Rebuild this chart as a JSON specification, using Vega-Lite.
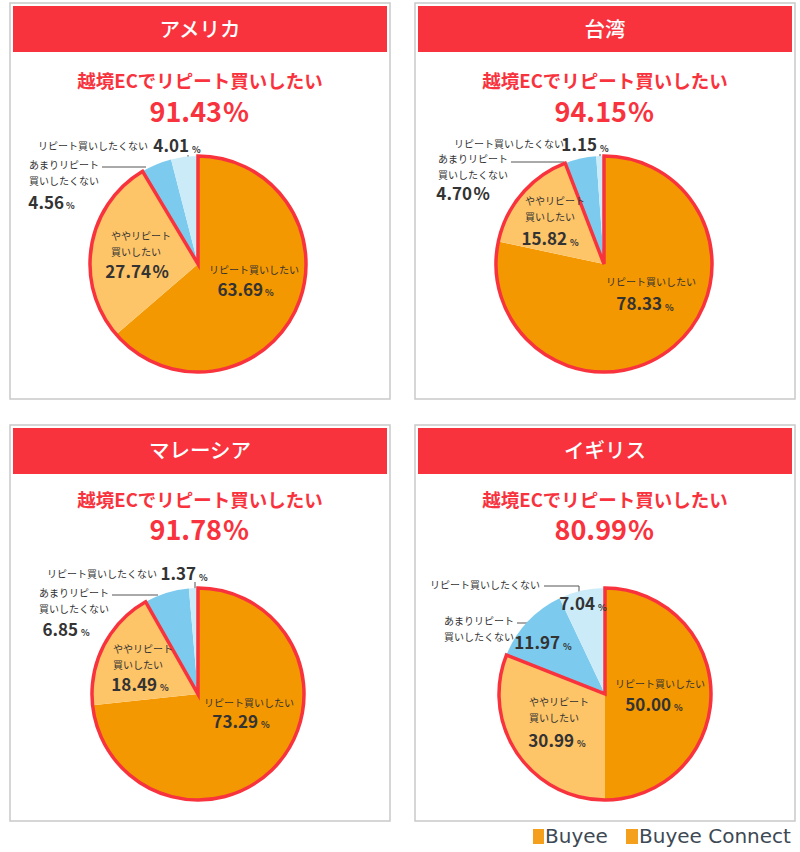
{
  "$schema": "https://vega.github.io/schema/vega-lite/v6.json",
  "background": "white",
  "padding": {"left": 9, "top": 2, "right": 0, "bottom": 0},
  "config": {
    "view": {"stroke": null},
    "axis": {"disable": true},
    "legend": {"disable": true},
    "text": {"font": "Noto Sans CJK JP", "fontSize": 10, "color": "#333333", "baseline": "middle", "lineBreak": "\n", "lineHeight": 16}
  },
  "datasets": {
    "slices": [
      {"country": "アメリカ", "category": "リピート買いしたい", "level": 1, "value": 63.69},
      {"country": "アメリカ", "category": "ややリピート\n買いしたい", "level": 2, "value": 27.74},
      {"country": "アメリカ", "category": "あまりリピート\n買いしたくない", "level": 3, "value": 4.56},
      {"country": "アメリカ", "category": "リピート買いしたくない", "level": 4, "value": 4.01},
      {"country": "台湾", "category": "リピート買いしたい", "level": 1, "value": 78.33},
      {"country": "台湾", "category": "ややリピート\n買いしたい", "level": 2, "value": 15.82},
      {"country": "台湾", "category": "あまりリピート\n買いしたくない", "level": 3, "value": 4.70},
      {"country": "台湾", "category": "リピート買いしたくない", "level": 4, "value": 1.15},
      {"country": "マレーシア", "category": "リピート買いしたい", "level": 1, "value": 73.29},
      {"country": "マレーシア", "category": "ややリピート\n買いしたい", "level": 2, "value": 18.49},
      {"country": "マレーシア", "category": "あまりリピート\n買いしたくない", "level": 3, "value": 6.85},
      {"country": "マレーシア", "category": "リピート買いしたくない", "level": 4, "value": 1.37},
      {"country": "イギリス", "category": "リピート買いしたい", "level": 1, "value": 50.00},
      {"country": "イギリス", "category": "ややリピート\n買いしたい", "level": 2, "value": 30.99},
      {"country": "イギリス", "category": "あまりリピート\n買いしたくない", "level": 3, "value": 11.97},
      {"country": "イギリス", "category": "リピート買いしたくない", "level": 4, "value": 7.04}
    ]
  },
  "spacing": 24,
  "vconcat": [
    {
      "hconcat": [
        {
          "spacing": 0, "bounds": "flush",
          "vconcat": [
            {
              "width": 380, "height": 126,
              "data": {"name": "slices"},
              "transform": [{"filter": "datum.country === 'アメリカ' && datum.level <= 2"}, {"aggregate": [{"op": "sum", "field": "value", "as": "total"}], "groupby": ["country"]}],
              "layer": [
                {"mark": {"type": "rect", "fillOpacity": 0, "stroke": "#c9c9c9", "strokeWidth": 1.5}, "encoding": {"x": {"datum": 0, "type": "quantitative", "scale": {"domain": [0, 380], "nice": false, "zero": false}}, "x2": {"datum": 380}, "y": {"datum": 0, "type": "quantitative", "scale": {"domain": [0, 126], "nice": false, "zero": false, "reverse": true}}, "y2": {"datum": 396}}},
                {"mark": {"type": "rect", "color": "#f8333e"}, "encoding": {"x": {"datum": 3}, "x2": {"datum": 377}, "y": {"datum": 3}, "y2": {"datum": 49}}},
                {"mark": {"type": "text", "color": "white", "fontSize": 20.5, "fontWeight": 500}, "encoding": {"x": {"datum": 190}, "y": {"datum": 27.5}, "text": {"field": "country", "type": "nominal"}}},
                {"mark": {"type": "text", "text": "越境ECでリピート買いしたい", "color": "#f8333e", "fontSize": 18.5, "fontWeight": "bold"}, "encoding": {"x": {"datum": 190}, "y": {"datum": 79}}},
                {"mark": {"type": "text", "align": "right", "color": "#f8333e", "fontSize": 27, "fontWeight": "bold"}, "encoding": {"x": {"datum": 212}, "y": {"datum": 110.5}, "text": {"field": "total", "type": "quantitative", "format": ".2f"}}},
                {"mark": {"type": "text", "text": "%", "align": "left", "color": "#f8333e", "fontSize": 27, "fontWeight": "bold"}, "encoding": {"x": {"datum": 213}, "y": {"datum": 110.5}}},
                {"mark": {"type": "rule", "color": "#555555", "strokeWidth": 1}, "encoding": {"x": {"datum": 92}, "x2": {"datum": 136}, "y": {"datum": 164}}},
                {"mark": {"type": "rule", "color": "#555555", "strokeWidth": 1}, "encoding": {"x": {"datum": 178}, "y": {"datum": 152}, "y2": {"datum": 162}}}
              ]
            },
            {
              "width": 376, "height": 270,
              "data": {"name": "slices"},
              "transform": [{"filter": "datum.country === 'アメリカ'"}],
              "layer": [
                {"mark": {"type": "arc", "outerRadius": 108}, "encoding": {"theta": {"field": "value", "type": "quantitative", "stack": true}, "order": {"field": "level", "type": "quantitative"}, "color": {"field": "category", "type": "nominal", "scale": {"domain": ["リピート買いしたい", "ややリピート\n買いしたい", "あまりリピート\n買いしたくない", "リピート買いしたくない"], "range": ["#f39800", "#fdc468", "#7ccbee", "#cbebf8"]}, "legend": null}}},
                {"transform": [{"filter": "datum.level <= 2"}, {"aggregate": [{"op": "sum", "field": "value", "as": "total"}], "groupby": ["country"]}], "mark": {"type": "arc", "outerRadius": 108, "fillOpacity": 0, "stroke": "#f8333e", "strokeWidth": 3.5, "strokeJoin": "miter"}, "encoding": {"theta": {"field": "total", "type": "quantitative", "stack": true}, "detail": {"field": "country", "type": "nominal"}}},
                {
                  "encoding": {"theta": {"field": "value", "type": "quantitative", "stack": true}, "order": {"field": "level", "type": "quantitative"}, "detail": {"field": "category", "type": "nominal"}},
                  "layer": [
                    {"mark": {"type": "text", "radius": {"expr": "[60,60,100,117][datum.level-1]"}, "dx": {"expr": "[1.5,-27.8,-130.5,-35.3][datum.level-1]"}, "dy": {"expr": "[-18.5,-16.9,-5.7,-1][datum.level-1]"}, "align": {"expr": "['center','left','left','right'][datum.level-1]"}}, "encoding": {"text": {"field": "category", "type": "nominal"}}},
                    {"mark": {"type": "text", "radius": {"expr": "[60,60,100,117][datum.level-1]"}, "dx": {"expr": "[10.5,12.2,-95.5,5.7][datum.level-1]"}, "dy": {"expr": "[1.5,19.1,31.8,-1][datum.level-1]"}, "align": "right", "fontSize": 17, "fontWeight": "bold"}, "encoding": {"text": {"field": "value", "type": "quantitative", "format": ".2f"}}},
                    {"mark": {"type": "text", "text": "%", "radius": {"expr": "[60,60,100,117][datum.level-1]"}, "dx": {"expr": "[12.5,13.7,-93.5,8.7][datum.level-1]"}, "dy": {"expr": "[4,19.1,34.5,2][datum.level-1]"}, "fontSize": {"expr": "[9,17,9,9][datum.level-1]"}, "align": "left", "fontWeight": "bold"}}
                  ]
                }
              ]
            }
          ]
        },
        {
          "spacing": 0, "bounds": "flush",
          "vconcat": [
            {
              "width": 380, "height": 126,
              "data": {"name": "slices"},
              "transform": [{"filter": "datum.country === '台湾' && datum.level <= 2"}, {"aggregate": [{"op": "sum", "field": "value", "as": "total"}], "groupby": ["country"]}],
              "layer": [
                {"mark": {"type": "rect", "fillOpacity": 0, "stroke": "#c9c9c9", "strokeWidth": 1.5}, "encoding": {"x": {"datum": 0, "type": "quantitative", "scale": {"domain": [0, 380], "nice": false, "zero": false}}, "x2": {"datum": 380}, "y": {"datum": 0, "type": "quantitative", "scale": {"domain": [0, 126], "nice": false, "zero": false, "reverse": true}}, "y2": {"datum": 396}}},
                {"mark": {"type": "rect", "color": "#f8333e"}, "encoding": {"x": {"datum": 3}, "x2": {"datum": 377}, "y": {"datum": 3}, "y2": {"datum": 49}}},
                {"mark": {"type": "text", "color": "white", "fontSize": 20.5, "fontWeight": 500}, "encoding": {"x": {"datum": 190}, "y": {"datum": 27.5}, "text": {"field": "country", "type": "nominal"}}},
                {"mark": {"type": "text", "text": "越境ECでリピート買いしたい", "color": "#f8333e", "fontSize": 18.5, "fontWeight": "bold"}, "encoding": {"x": {"datum": 190}, "y": {"datum": 79}}},
                {"mark": {"type": "text", "align": "right", "color": "#f8333e", "fontSize": 27, "fontWeight": "bold"}, "encoding": {"x": {"datum": 212}, "y": {"datum": 110.5}, "text": {"field": "total", "type": "quantitative", "format": ".2f"}}},
                {"mark": {"type": "text", "text": "%", "align": "left", "color": "#f8333e", "fontSize": 27, "fontWeight": "bold"}, "encoding": {"x": {"datum": 213}, "y": {"datum": 110.5}}},
                {"mark": {"type": "rule", "color": "#555555", "strokeWidth": 1}, "encoding": {"x": {"datum": 96}, "x2": {"datum": 149}, "y": {"datum": 159}}},
                {"mark": {"type": "rule", "color": "#555555", "strokeWidth": 1}, "encoding": {"x": {"datum": 185}, "y": {"datum": 151}, "y2": {"datum": 159}}}
              ]
            },
            {
              "width": 378, "height": 270,
              "data": {"name": "slices"},
              "transform": [{"filter": "datum.country === '台湾'"}],
              "layer": [
                {"mark": {"type": "arc", "outerRadius": 108}, "encoding": {"theta": {"field": "value", "type": "quantitative", "stack": true}, "order": {"field": "level", "type": "quantitative"}, "color": {"field": "category", "type": "nominal", "scale": {"domain": ["リピート買いしたい", "ややリピート\n買いしたい", "あまりリピート\n買いしたくない", "リピート買いしたくない"], "range": ["#f39800", "#fdc468", "#7ccbee", "#cbebf8"]}, "legend": null}}},
                {"transform": [{"filter": "datum.level <= 2"}, {"aggregate": [{"op": "sum", "field": "value", "as": "total"}], "groupby": ["country"]}], "mark": {"type": "arc", "outerRadius": 108, "fillOpacity": 0, "stroke": "#f8333e", "strokeWidth": 3.5, "strokeJoin": "miter"}, "encoding": {"theta": {"field": "total", "type": "quantitative", "stack": true}, "detail": {"field": "country", "type": "nominal"}}},
                {
                  "encoding": {"theta": {"field": "value", "type": "quantitative", "stack": true}, "order": {"field": "level", "type": "quantitative"}, "detail": {"field": "category", "type": "nominal"}},
                  "layer": [
                    {"mark": {"type": "text", "radius": {"expr": "[45,60,100,117][datum.level-1]"}, "dx": {"expr": "[18.7,-33.3,-144.2,-35.8][datum.level-1]"}, "dy": {"expr": "[-15.5,-23.1,-6.2,-2.2][datum.level-1]"}, "align": {"expr": "['center','left','left','right'][datum.level-1]"}}, "encoding": {"text": {"field": "category", "type": "nominal"}}},
                    {"mark": {"type": "text", "radius": {"expr": "[45,60,100,117][datum.level-1]"}, "dx": {"expr": "[29.7,8.7,-110.2,-2.8][datum.level-1]"}, "dy": {"expr": "[6.5,15.4,28.6,-1][datum.level-1]"}, "align": "right", "fontSize": 17, "fontWeight": "bold"}, "encoding": {"text": {"field": "value", "type": "quantitative", "format": ".2f"}}},
                    {"mark": {"type": "text", "text": "%", "radius": {"expr": "[45,60,100,117][datum.level-1]"}, "dx": {"expr": "[32.7,11.7,-108.7,0.2][datum.level-1]"}, "dy": {"expr": "[9,18,28.6,2][datum.level-1]"}, "fontSize": {"expr": "[9,9,17,9][datum.level-1]"}, "align": "left", "fontWeight": "bold"}}
                  ]
                }
              ]
            }
          ]
        }
      ],
      "spacing": 23
    },
    {
      "hconcat": [
        {
          "spacing": 0, "bounds": "flush",
          "vconcat": [
            {
              "width": 380, "height": 142,
              "data": {"name": "slices"},
              "transform": [{"filter": "datum.country === 'マレーシア' && datum.level <= 2"}, {"aggregate": [{"op": "sum", "field": "value", "as": "total"}], "groupby": ["country"]}],
              "layer": [
                {"mark": {"type": "rect", "fillOpacity": 0, "stroke": "#c9c9c9", "strokeWidth": 1.5}, "encoding": {"x": {"datum": 0, "type": "quantitative", "scale": {"domain": [0, 380], "nice": false, "zero": false}}, "x2": {"datum": 380}, "y": {"datum": 0, "type": "quantitative", "scale": {"domain": [0, 142], "nice": false, "zero": false, "reverse": true}}, "y2": {"datum": 396}}},
                {"mark": {"type": "rect", "color": "#f8333e"}, "encoding": {"x": {"datum": 3}, "x2": {"datum": 377}, "y": {"datum": 3}, "y2": {"datum": 49}}},
                {"mark": {"type": "text", "color": "white", "fontSize": 20.5, "fontWeight": 500}, "encoding": {"x": {"datum": 190}, "y": {"datum": 26.5}, "text": {"field": "country", "type": "nominal"}}},
                {"mark": {"type": "text", "text": "越境ECでリピート買いしたい", "color": "#f8333e", "fontSize": 18.5, "fontWeight": "bold"}, "encoding": {"x": {"datum": 190}, "y": {"datum": 75.5}}},
                {"mark": {"type": "text", "align": "right", "color": "#f8333e", "fontSize": 27, "fontWeight": "bold"}, "encoding": {"x": {"datum": 212}, "y": {"datum": 106.5}, "text": {"field": "total", "type": "quantitative", "format": ".2f"}}},
                {"mark": {"type": "text", "text": "%", "align": "left", "color": "#f8333e", "fontSize": 27, "fontWeight": "bold"}, "encoding": {"x": {"datum": 213}, "y": {"datum": 106.5}}},
                {"mark": {"type": "rule", "color": "#555555", "strokeWidth": 1}, "encoding": {"x": {"datum": 102}, "x2": {"datum": 148}, "y": {"datum": 170}}},
                {"mark": {"type": "rule", "color": "#555555", "strokeWidth": 1}, "encoding": {"x": {"datum": 185}, "y": {"datum": 157}, "y2": {"datum": 165}}}
              ]
            },
            {
              "width": 376, "height": 254,
              "data": {"name": "slices"},
              "transform": [{"filter": "datum.country === 'マレーシア'"}],
              "layer": [
                {"mark": {"type": "arc", "outerRadius": 106}, "encoding": {"theta": {"field": "value", "type": "quantitative", "stack": true}, "order": {"field": "level", "type": "quantitative"}, "color": {"field": "category", "type": "nominal", "scale": {"domain": ["リピート買いしたい", "ややリピート\n買いしたい", "あまりリピート\n買いしたくない", "リピート買いしたくない"], "range": ["#f39800", "#fdc468", "#7ccbee", "#cbebf8"]}, "legend": null}}},
                {"transform": [{"filter": "datum.level <= 2"}, {"aggregate": [{"op": "sum", "field": "value", "as": "total"}], "groupby": ["country"]}], "mark": {"type": "arc", "outerRadius": 106, "fillOpacity": 0, "stroke": "#f8333e", "strokeWidth": 3.5, "strokeJoin": "miter"}, "encoding": {"theta": {"field": "total", "type": "quantitative", "stack": true}, "detail": {"field": "country", "type": "nominal"}}},
                {
                  "encoding": {"theta": {"field": "value", "type": "quantitative", "stack": true}, "order": {"field": "level", "type": "quantitative"}, "detail": {"field": "category", "type": "nominal"}},
                  "layer": [
                    {"mark": {"type": "text", "radius": {"expr": "[50,60,100,118][datum.level-1]"}, "dx": {"expr": "[13.8,-31.6,-129.3,-35.9][datum.level-1]"}, "dy": {"expr": "[-23.9,-17.1,-4.5,-1][datum.level-1]"}, "align": {"expr": "['center','left','left','right'][datum.level-1]"}}, "encoding": {"text": {"field": "category", "type": "nominal"}}},
                    {"mark": {"type": "text", "radius": {"expr": "[50,60,100,118][datum.level-1]"}, "dx": {"expr": "[22.8,12.4,-90.3,3.1][datum.level-1]"}, "dy": {"expr": "[-4.9,18.9,32,-1][datum.level-1]"}, "align": "right", "fontSize": 17, "fontWeight": "bold"}, "encoding": {"text": {"field": "value", "type": "quantitative", "format": ".2f"}}},
                    {"mark": {"type": "text", "text": "%", "radius": {"expr": "[50,60,100,118][datum.level-1]"}, "dx": {"expr": "[25.8,15.4,-87.3,6.1][datum.level-1]"}, "dy": {"expr": "[-2.5,21.5,34.5,2][datum.level-1]"}, "fontSize": 9, "align": "left", "fontWeight": "bold"}}
                  ]
                }
              ]
            }
          ]
        },
        {
          "spacing": 0, "bounds": "flush",
          "vconcat": [
            {
              "width": 380, "height": 142,
              "data": {"name": "slices"},
              "transform": [{"filter": "datum.country === 'イギリス' && datum.level <= 2"}, {"aggregate": [{"op": "sum", "field": "value", "as": "total"}], "groupby": ["country"]}],
              "layer": [
                {"mark": {"type": "rect", "fillOpacity": 0, "stroke": "#c9c9c9", "strokeWidth": 1.5}, "encoding": {"x": {"datum": 0, "type": "quantitative", "scale": {"domain": [0, 380], "nice": false, "zero": false}}, "x2": {"datum": 380}, "y": {"datum": 0, "type": "quantitative", "scale": {"domain": [0, 142], "nice": false, "zero": false, "reverse": true}}, "y2": {"datum": 396}}},
                {"mark": {"type": "rect", "color": "#f8333e"}, "encoding": {"x": {"datum": 3}, "x2": {"datum": 377}, "y": {"datum": 3}, "y2": {"datum": 49}}},
                {"mark": {"type": "text", "color": "white", "fontSize": 20.5, "fontWeight": 500}, "encoding": {"x": {"datum": 190}, "y": {"datum": 26.5}, "text": {"field": "country", "type": "nominal"}}},
                {"mark": {"type": "text", "text": "越境ECでリピート買いしたい", "color": "#f8333e", "fontSize": 18.5, "fontWeight": "bold"}, "encoding": {"x": {"datum": 190}, "y": {"datum": 75.5}}},
                {"mark": {"type": "text", "align": "right", "color": "#f8333e", "fontSize": 27, "fontWeight": "bold"}, "encoding": {"x": {"datum": 212}, "y": {"datum": 106.5}, "text": {"field": "total", "type": "quantitative", "format": ".2f"}}},
                {"mark": {"type": "text", "text": "%", "align": "left", "color": "#f8333e", "fontSize": 27, "fontWeight": "bold"}, "encoding": {"x": {"datum": 213}, "y": {"datum": 106.5}}},
                {"mark": {"type": "rule", "color": "#555555", "strokeWidth": 1}, "encoding": {"x": {"datum": 102}, "x2": {"datum": 119}, "y": {"datum": 198}}},
                {"mark": {"type": "rule", "color": "#555555", "strokeWidth": 1}, "encoding": {"x": {"datum": 129}, "x2": {"datum": 164}, "y": {"datum": 161}}},
                {"mark": {"type": "rule", "color": "#555555", "strokeWidth": 1}, "encoding": {"x": {"datum": 164}, "y": {"datum": 161}, "y2": {"datum": 169}}},
                {"mark": {"type": "rect", "color": "#f4a01c"}, "encoding": {"x": {"datum": 118}, "x2": {"datum": 129}, "y": {"datum": 404}, "y2": {"datum": 419}}},
                {"mark": {"type": "text", "text": "Buyee", "align": "left", "font": "DejaVu Sans", "fontSize": 20, "color": "#3d4954"}, "encoding": {"x": {"datum": 130}, "y": {"datum": 412}}},
                {"mark": {"type": "rect", "color": "#f4a01c"}, "encoding": {"x": {"datum": 211}, "x2": {"datum": 223}, "y": {"datum": 404}, "y2": {"datum": 419}}},
                {"mark": {"type": "text", "text": "Buyee Connect", "align": "left", "font": "DejaVu Sans", "fontSize": 20, "color": "#3d4954"}, "encoding": {"x": {"datum": 224}, "y": {"datum": 412}}}
              ]
            },
            {
              "width": 380, "height": 254,
              "data": {"name": "slices"},
              "transform": [{"filter": "datum.country === 'イギリス'"}],
              "layer": [
                {"mark": {"type": "arc", "outerRadius": 106}, "encoding": {"theta": {"field": "value", "type": "quantitative", "stack": true}, "order": {"field": "level", "type": "quantitative"}, "color": {"field": "category", "type": "nominal", "scale": {"domain": ["リピート買いしたい", "ややリピート\n買いしたい", "あまりリピート\n買いしたくない", "リピート買いしたくない"], "range": ["#f39800", "#fdc468", "#7ccbee", "#cbebf8"]}, "legend": null}}},
                {"transform": [{"filter": "datum.level <= 2"}, {"aggregate": [{"op": "sum", "field": "value", "as": "total"}], "groupby": ["country"]}], "mark": {"type": "arc", "outerRadius": 106, "fillOpacity": 0, "stroke": "#f8333e", "strokeWidth": 3.5, "strokeJoin": "miter"}, "encoding": {"theta": {"field": "total", "type": "quantitative", "stack": true}, "detail": {"field": "country", "type": "nominal"}}},
                {
                  "encoding": {"theta": {"field": "value", "type": "quantitative", "stack": true}, "order": {"field": "level", "type": "quantitative"}, "detail": {"field": "category", "type": "nominal"}},
                  "layer": [
                    {"mark": {"type": "text", "radius": {"expr": "[55,60,70,90][datum.level-1]"}, "dx": {"expr": "[0,-26.4,-109.9,-45.3][datum.level-1]"}, "dy": {"expr": "[-9,-25.2,-24.1,-20.2][datum.level-1]"}, "align": {"expr": "['center','left','left','right'][datum.level-1]"}}, "encoding": {"text": {"field": "category", "type": "nominal"}}},
                    {"mark": {"type": "text", "radius": {"expr": "[55,60,70,90][datum.level-1]"}, "dx": {"expr": "[11,18.6,6.1,9.7][datum.level-1]"}, "dy": {"expr": "[11.5,13.8,-2.1,-1.2][datum.level-1]"}, "align": "right", "fontSize": 17, "fontWeight": "bold"}, "encoding": {"text": {"field": "value", "type": "quantitative", "format": ".2f"}}},
                    {"mark": {"type": "text", "text": "%", "radius": {"expr": "[55,60,70,90][datum.level-1]"}, "dx": {"expr": "[14,21.6,9.1,12.7][datum.level-1]"}, "dy": {"expr": "[14,16.5,0.5,1.5][datum.level-1]"}, "fontSize": 9, "align": "left", "fontWeight": "bold"}}
                  ]
                }
              ]
            }
          ]
        }
      ],
      "spacing": 23
    }
  ]
}
